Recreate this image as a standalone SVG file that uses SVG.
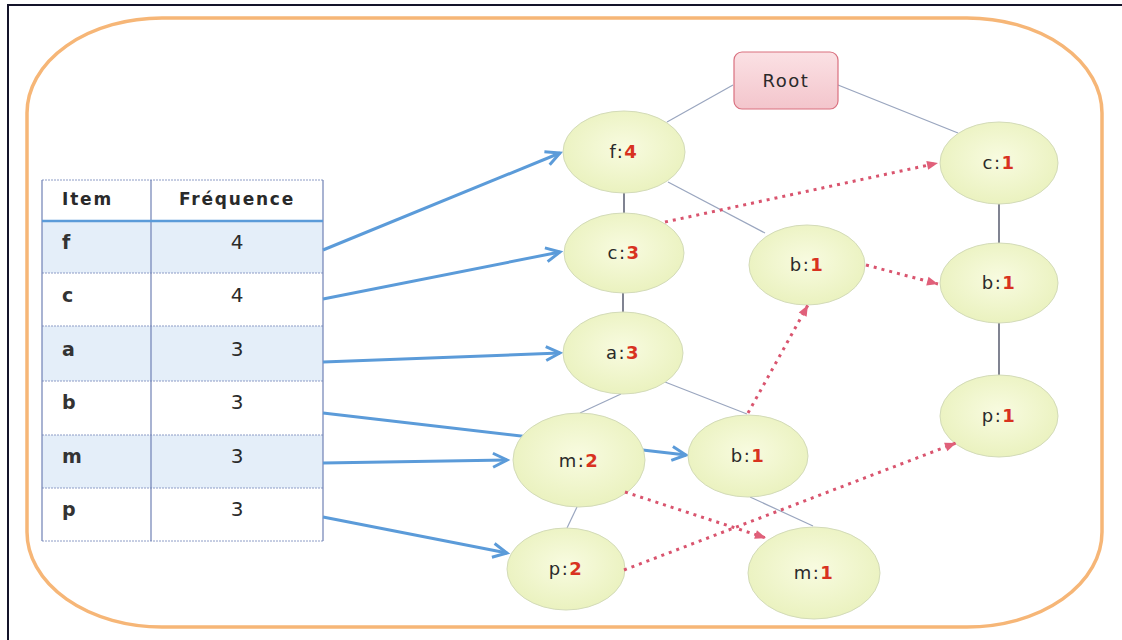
<svg xmlns="http://www.w3.org/2000/svg" width="1122" height="640" viewBox="0 0 1122 640">
<style>
.frame{fill:none;stroke:#14142a;stroke-width:2}
.outer{fill:none;stroke:#f6b677;stroke-width:3.5}
.row1{fill:#e4eef9}
.row0{fill:#ffffff}
.grid{stroke:#8d9cc6;stroke-width:1;stroke-dasharray:2 1}
.vgrid{stroke:#6f80b4;stroke-width:1.2}
.hdr{font-family:"DejaVu Sans",sans-serif;font-weight:bold;font-size:17px;fill:#2a2a2a;letter-spacing:1.8px}
.item{font-family:"DejaVu Sans",sans-serif;font-weight:bold;font-size:19px;fill:#333333}
.num{font-family:"DejaVu Sans",sans-serif;font-size:20px;fill:#2a2a2a;text-anchor:middle}
.node{fill:url(#ng);stroke:#d3dbb8;stroke-width:1}
.lbl{font-family:"DejaVu Sans",sans-serif;font-size:18px;fill:#2a2a2a;text-anchor:middle;letter-spacing:1.5px}
.cnt{fill:#d8321f;font-weight:bold}
.edge{stroke:#9aa6bf;stroke-width:1.2;fill:none}
.edgeD{stroke:#4a4f63;stroke-width:1.4;fill:none}
.ptr{stroke:#5b9bd9;stroke-width:3;fill:none}
.link{stroke:#d9546e;stroke-width:3;stroke-dasharray:3 5;fill:none}
</style>
<defs>
<radialGradient id="ng" cx="50%" cy="45%" r="60%">
<stop offset="0" stop-color="#f8fbe0"/>
<stop offset="1" stop-color="#e9f1bc"/>
</radialGradient>
<linearGradient id="rg" x1="0" y1="0" x2="0" y2="1">
<stop offset="0" stop-color="#fbe1e4"/>
<stop offset="1" stop-color="#f3c5cc"/>
</linearGradient>
<marker id="ba" markerUnits="userSpaceOnUse" markerWidth="18" markerHeight="16" refX="15" refY="7" orient="auto" overflow="visible">
<path d="M1,0 L15,7 L1,14" fill="none" stroke="#5b9bd9" stroke-width="3"/>
</marker>
<marker id="ra" markerUnits="userSpaceOnUse" markerWidth="12" markerHeight="10" refX="11" refY="4.5" orient="auto" overflow="visible">
<path d="M0,0 L11,4.5 L0,9 z" fill="#e0607a"/>
</marker>
</defs>
<rect width="1122" height="640" fill="#ffffff"/>
<rect class="frame" x="8" y="5" width="1130" height="650"/>
<rect class="outer" x="27" y="18" width="1075" height="609" rx="135" ry="95"/>

<g id="table">
<rect class="row0" x="42" y="180" width="281" height="41"/>
<rect class="row1" x="42" y="221" width="281" height="52"/>
<rect class="row0" x="42" y="273" width="281" height="53"/>
<rect class="row1" x="42" y="326" width="281" height="55"/>
<rect class="row0" x="42" y="381" width="281" height="54"/>
<rect class="row1" x="42" y="435" width="281" height="53"/>
<rect class="row0" x="42" y="488" width="281" height="53"/>
<line class="grid" x1="42" y1="180" x2="323" y2="180"/>
<line class="grid" x1="42" y1="273" x2="323" y2="273"/>
<line class="grid" x1="42" y1="326" x2="323" y2="326"/>
<line class="grid" x1="42" y1="381" x2="323" y2="381"/>
<line class="grid" x1="42" y1="435" x2="323" y2="435"/>
<line class="grid" x1="42" y1="488" x2="323" y2="488"/>
<line class="grid" x1="42" y1="541" x2="323" y2="541"/>
<line class="vgrid" x1="42" y1="180" x2="42" y2="541"/>
<line class="vgrid" x1="151" y1="180" x2="151" y2="541"/>
<line class="vgrid" x1="323" y1="180" x2="323" y2="541"/>
<line x1="42" y1="221" x2="323" y2="221" stroke="#5b9bd9" stroke-width="2.5"/>
<text class="hdr" x="62" y="205">Item</text>
<text class="hdr" x="237" y="205" text-anchor="middle">Fréquence</text>
<text class="item" x="62" y="249">f</text>
<text class="num" x="237" y="249">4</text>
<text class="item" x="62" y="302">c</text>
<text class="num" x="237" y="302">4</text>
<text class="item" x="62" y="356">a</text>
<text class="num" x="237" y="356">3</text>
<text class="item" x="62" y="409">b</text>
<text class="num" x="237" y="409">3</text>
<text class="item" x="62" y="463">m</text>
<text class="num" x="237" y="463">3</text>
<text class="item" x="62" y="516">p</text>
<text class="num" x="237" y="516">3</text>
</g>

<g id="connectors">
<line class="edge" x1="733" y1="85" x2="667" y2="122"/>
<line class="edge" x1="838" y1="85" x2="958" y2="133"/>
<line class="edgeD" x1="624" y1="192" x2="624" y2="213"/>
<line class="edge" x1="668" y1="182" x2="765" y2="233"/>
<line class="edgeD" x1="623" y1="293" x2="623" y2="313"/>
<line class="edge" x1="621" y1="394" x2="580" y2="413"/>
<line class="edge" x1="665" y1="382" x2="747" y2="414"/>
<line class="edge" x1="577" y1="507" x2="567" y2="528"/>
<line class="edge" x1="750" y1="497" x2="813" y2="526"/>
<line class="edgeD" x1="999" y1="204" x2="999" y2="243"/>
<line class="edgeD" x1="999" y1="323" x2="999" y2="375"/>
<line class="ptr" x1="323" y1="250" x2="560" y2="153" marker-end="url(#ba)"/>
<line class="ptr" x1="323" y1="299" x2="560" y2="252" marker-end="url(#ba)"/>
<line class="ptr" x1="323" y1="362" x2="560" y2="353" marker-end="url(#ba)"/>
<line class="ptr" x1="323" y1="413" x2="686" y2="455" marker-end="url(#ba)"/>
<line class="ptr" x1="323" y1="463" x2="507" y2="460" marker-end="url(#ba)"/>
<line class="ptr" x1="323" y1="517" x2="507" y2="553" marker-end="url(#ba)"/>
</g>

<g id="root">
<rect x="734" y="52" width="104" height="57" rx="8" fill="url(#rg)" stroke="#d9707f" stroke-width="1.2"/>
<text class="lbl" x="786" y="87" letter-spacing="2.5">Root</text>
</g>
<g id="n-f4"><ellipse class="node" cx="624" cy="152" rx="61" ry="41"/><text class="lbl" x="624" y="158">f:<tspan class="cnt">4</tspan></text></g>
<g id="n-c3"><ellipse class="node" cx="624" cy="253" rx="60" ry="40"/><text class="lbl" x="624" y="259">c:<tspan class="cnt">3</tspan></text></g>
<g id="n-b1a"><ellipse class="node" cx="807" cy="265" rx="58" ry="40"/><text class="lbl" x="807" y="271">b:<tspan class="cnt">1</tspan></text></g>
<g id="n-a3"><ellipse class="node" cx="623" cy="353" rx="60" ry="41"/><text class="lbl" x="623" y="359">a:<tspan class="cnt">3</tspan></text></g>
<g id="n-m2"><ellipse class="node" cx="579" cy="460" rx="66" ry="47"/><text class="lbl" x="579" y="467">m:<tspan class="cnt">2</tspan></text></g>
<g id="n-b1b"><ellipse class="node" cx="748" cy="456" rx="60" ry="41"/><text class="lbl" x="748" y="462">b:<tspan class="cnt">1</tspan></text></g>
<g id="n-p2"><ellipse class="node" cx="566" cy="569" rx="59" ry="41"/><text class="lbl" x="566" y="575">p:<tspan class="cnt">2</tspan></text></g>
<g id="n-m1"><ellipse class="node" cx="814" cy="573" rx="66" ry="46"/><text class="lbl" x="814" y="579">m:<tspan class="cnt">1</tspan></text></g>
<g id="n-c1"><ellipse class="node" cx="999" cy="163" rx="59" ry="41"/><text class="lbl" x="999" y="169">c:<tspan class="cnt">1</tspan></text></g>
<g id="n-b1c"><ellipse class="node" cx="999" cy="283" rx="59" ry="40"/><text class="lbl" x="999" y="289">b:<tspan class="cnt">1</tspan></text></g>
<g id="n-p1"><ellipse class="node" cx="999" cy="416" rx="59" ry="41"/><text class="lbl" x="999" y="422">p:<tspan class="cnt">1</tspan></text></g>

<g id="node-links">
<line class="link" x1="665" y1="222" x2="938" y2="163" marker-end="url(#ra)"/>
<line class="link" x1="866" y1="265" x2="938" y2="284" marker-end="url(#ra)"/>
<line class="link" x1="748" y1="413" x2="808" y2="305" marker-end="url(#ra)"/>
<line class="link" x1="625" y1="492" x2="766" y2="538" marker-end="url(#ra)"/>
<line class="link" x1="624" y1="570" x2="956" y2="443" marker-end="url(#ra)"/>
</g>
</svg>
